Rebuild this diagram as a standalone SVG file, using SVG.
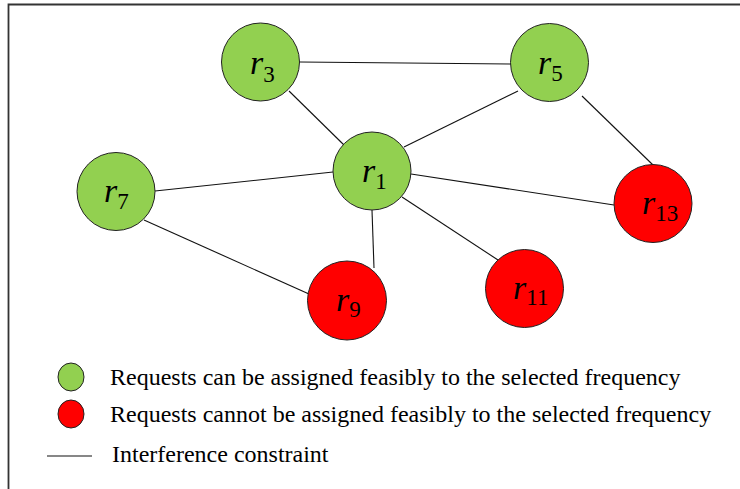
<svg xmlns="http://www.w3.org/2000/svg" width="740" height="489" viewBox="0 0 740 489">
  <style>
    .frame { fill: none; stroke: #333; stroke-width: 1.8; }
    .edge { stroke: #111; stroke-width: 1.1; fill: none; }
    .ok { fill: #92D050; stroke: #222; stroke-width: 1; }
    .bad { fill: #FF0000; stroke: #222; stroke-width: 1; }
    .lbl { font-family: "Liberation Serif", "DejaVu Serif", serif; font-style: italic; font-size: 34px; fill: #000; }
    .sub { font-family: "Liberation Serif", "DejaVu Serif", serif; font-style: normal; font-size: 23px; }
    .legend { font-family: "Liberation Serif", "Times New Roman", serif; font-size: 24px; fill: #000; }
  </style>

  <rect width="740" height="489" fill="#fff"/>
  <!-- outer frame (top and left edges visible) -->
  <path class="frame" d="M8.5,489 V4.5 H740"/>

  <!-- interference constraints -->
  <g id="connectors">
    <line class="edge" x1="300" y1="62" x2="511" y2="64"/>
    <line class="edge" x1="289" y1="91" x2="345" y2="146"/>
    <line class="edge" x1="404" y1="147" x2="518" y2="91"/>
    <line class="edge" x1="582" y1="96" x2="653" y2="165"/>
    <line class="edge" x1="155" y1="191" x2="333" y2="172"/>
    <line class="edge" x1="411" y1="174" x2="614" y2="205"/>
    <line class="edge" x1="402" y1="197" x2="498" y2="260"/>
    <line class="edge" x1="372" y1="210" x2="374" y2="268"/>
    <line class="edge" x1="144" y1="220" x2="309" y2="294"/>
  </g>

  <g id="r3">
    <circle class="ok" cx="260.5" cy="62" r="39"/>
    <text class="lbl" x="250" y="74">r<tspan class="sub" dy="8">3</tspan></text>
  </g>
  <g id="r5">
    <circle class="ok" cx="549.5" cy="62.5" r="39"/>
    <text class="lbl" x="538" y="74">r<tspan class="sub" dy="7">5</tspan></text>
  </g>
  <g id="r1">
    <circle class="ok" cx="372" cy="171" r="39"/>
    <text class="lbl" x="362" y="182">r<tspan class="sub" dy="7">1</tspan></text>
  </g>
  <g id="r7">
    <circle class="ok" cx="116" cy="191.5" r="39"/>
    <text class="lbl" x="104" y="202">r<tspan class="sub" dy="7">7</tspan></text>
  </g>
  <g id="r13">
    <circle class="bad" cx="653" cy="203.5" r="39"/>
    <text class="lbl" x="642" y="214">r<tspan class="sub" dy="7">13</tspan></text>
  </g>
  <g id="r9">
    <circle class="bad" cx="347" cy="300.5" r="39.5"/>
    <text class="lbl" x="336" y="311">r<tspan class="sub" dy="6">9</tspan></text>
  </g>
  <g id="r11">
    <circle class="bad" cx="524.5" cy="288.5" r="39"/>
    <text class="lbl" x="513" y="299">r<tspan class="sub" dy="6">11</tspan></text>
  </g>

  <!-- legend -->
  <g id="legend">
    <ellipse class="ok" cx="71" cy="377" rx="13" ry="14"/>
    <text class="legend" x="110" y="385">Requests can be assigned feasibly to the selected frequency</text>
    <ellipse class="bad" cx="71" cy="414" rx="13" ry="14"/>
    <text class="legend" x="110" y="422">Requests cannot be assigned feasibly to the selected frequency</text>
    <line class="edge" x1="47" y1="456" x2="92" y2="456"/>
    <text class="legend" x="112" y="462">Interference constraint</text>
  </g>
</svg>
